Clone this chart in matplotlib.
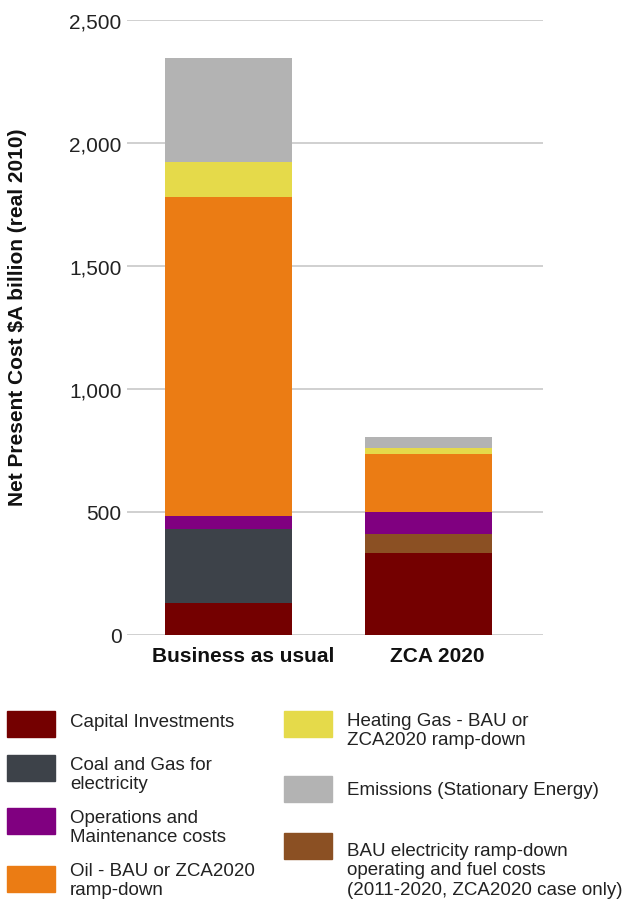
import numpy as np
import matplotlib.pyplot as plt
from matplotlib.patches import Rectangle
from matplotlib.transforms import ScaledTranslation

plt.rcParams['font.family'] = ['Liberation Sans', 'DejaVu Sans']

# net present cost, $A billion (real 2010)
scenarios = ['Business as usual', 'ZCA 2020']
capital = [129, 333]
coal_gas = [303, 0]
rampdown = [0, 77]
om = [52, 90]
oil = [1296, 236]
heating_gas = [142, 25]
emissions = [424, 45]

series = [
    ('Capital Investments', capital, '#740000'),
    ('Coal and Gas for\nelectricity', coal_gas, '#3d4249'),
    ('BAU electricity ramp-down\noperating and fuel costs\n(2011-2020, ZCA2020 case only)', rampdown, '#8b5023'),
    ('Operations and\nMaintenance costs', om, '#800080'),
    ('Oil - BAU or ZCA2020\nramp-down', oil, '#eb7c14'),
    ('Heating Gas - BAU or\nZCA2020 ramp-down', heating_gas, '#e5da4a'),
    ('Emissions (Stationary Energy)', emissions, '#b3b3b3'),
]

W, H = 623, 904
fig = plt.figure(figsize=(W / 100, H / 100), dpi=100)


def fx(px):
    return px / W


def fy(py):
    return 1 - py / H


ax = fig.add_axes([fx(127), fy(636), fx(543) - fx(127), fy(21) - fy(636)])

x = np.arange(len(scenarios))
bottom = np.zeros(len(scenarios))
for name, vals, col in series:
    ax.bar(x, vals, width=0.635, bottom=bottom, color=col, zorder=2)
    bottom += np.array(vals)

ax.set_xlim(-0.5075, 1.5725)
ax.set_ylim(0, 2500)
ax.set_yticks(np.arange(0, 2501, 500))
ax.set_yticklabels([f'{v:,}' for v in range(0, 2501, 500)])
ax.yaxis.grid(True, color='#c4c4c4', linewidth=1.1, zorder=0)
for s in ax.spines.values():
    s.set_visible(False)
ax.tick_params(axis='y', length=0, pad=4, labelsize=15, labelcolor='#222222')
ax.tick_params(axis='x', length=0, pad=8, labelsize=15, labelcolor='#111111')

ax.set_xticks(x)
ax.set_xticklabels(scenarios, fontweight='bold')
# labels sit a little right of the bar centres
for lab, dx in zip(ax.get_xticklabels(), [15, 9]):
    lab.set_transform(lab.get_transform() + ScaledTranslation(dx / 100, 0, fig.dpi_scale_trans))

ax.set_ylabel('Net Present Cost $A billion (real 2010)', fontsize=15,
              fontweight='bold', color='#111111', va='center')
ax.yaxis.set_label_coords((18 - 127) / 416, (636 - 317) / 615)

# legend laid out in two columns under the chart
legend_pos = {
    'Capital Investments': (7, 712, 723),
    'Coal and Gas for\nelectricity': (7, 756, 775),
    'Operations and\nMaintenance costs': (7, 809, 828),
    'Oil - BAU or ZCA2020\nramp-down': (7, 867, 881),
    'Heating Gas - BAU or\nZCA2020 ramp-down': (284, 712, 731),
    'Emissions (Stationary Energy)': (284, 777, 791),
    'BAU electricity ramp-down\noperating and fuel costs\n(2011-2020, ZCA2020 case only)': (284, 834, 871),
}
for name, vals, col in series:
    sx, sy, ty = legend_pos[name]
    fig.add_artist(Rectangle((fx(sx), fy(sy + 26)), fx(48), 26 / H,
                             transform=fig.transFigure, color=col))
    fig.text(fx(sx + 63), fy(ty), name, fontsize=13.5, color='#222222',
             va='center', ha='left', linespacing=1.2)

fig.savefig('out.png', dpi=100)
